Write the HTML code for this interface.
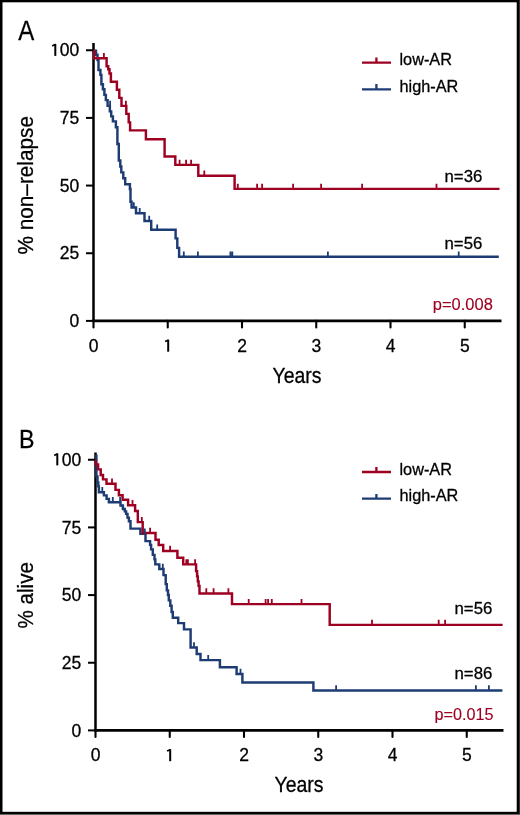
<!DOCTYPE html>
<html><head><meta charset="utf-8"><style>
html,body{margin:0;padding:0;background:#fff;}
body{width:520px;height:815px;overflow:hidden;}
svg{display:block;will-change:transform;}
text{font-family:"Liberation Sans",sans-serif;fill:#000;stroke:#000;stroke-width:0.28px;}
.tk{font-size:17.5px;}
.ttl{font-size:21.3px;}
.lg{font-size:16.3px;}
.nn{font-size:16.8px;}
.pv{font-size:15.6px;fill:#9e0022;stroke:#9e0022;stroke-width:0.12px;}
.pl{font-size:26px;}
</style></head><body>
<svg width="520" height="815" viewBox="0 0 520 815">
<rect x="0" y="0" width="520" height="815" fill="#000"/>
<rect x="2.5" y="2.3" width="514.2" height="809.5" fill="#fff"/>
<rect x="519" y="0" width="1" height="815" fill="#303030"/>
<rect x="0" y="814" width="520" height="1" fill="#666"/>
<text x="18.2" y="40.1" class="pl" style="font-size:26.8px" textLength="16" lengthAdjust="spacingAndGlyphs">A</text>
<text x="19" y="447.8" class="pl" textLength="15.5" lengthAdjust="spacingAndGlyphs">B</text>
<text transform="translate(33.2,254.5) rotate(-90)" class="ttl" textLength="138.5" lengthAdjust="spacingAndGlyphs">% non–relapse</text>
<text transform="translate(33.3,628.4) rotate(-90)" class="ttl" textLength="66.3" lengthAdjust="spacingAndGlyphs">% alive</text>
<line x1="93.5" y1="43" x2="93.5" y2="322.1" stroke="#000" stroke-width="2.5"/>
<line x1="92.25" y1="320.9" x2="501.5" y2="320.9" stroke="#000" stroke-width="2.6"/>
<line x1="86" y1="50.25" x2="93.5" y2="50.25" stroke="#000" stroke-width="2"/>
<text x="79.3" y="56.45" text-anchor="end" class="tk">00</text>
<path d="M55.3,55.9V44.1" stroke="#000" stroke-width="2.0" fill="none"/><path d="M55.7,44.4Q54.1,44.9 52.2,45.9" stroke="#000" stroke-width="1.75" fill="none"/>
<line x1="86" y1="117.91" x2="93.5" y2="117.91" stroke="#000" stroke-width="2"/>
<text x="79.3" y="124.11" text-anchor="end" class="tk">75</text>
<line x1="86" y1="185.57" x2="93.5" y2="185.57" stroke="#000" stroke-width="2"/>
<text x="79.3" y="191.77" text-anchor="end" class="tk">50</text>
<line x1="86" y1="253.24" x2="93.5" y2="253.24" stroke="#000" stroke-width="2"/>
<text x="79.3" y="259.44" text-anchor="end" class="tk">25</text>
<line x1="86" y1="320.9" x2="93.5" y2="320.9" stroke="#000" stroke-width="2"/>
<text x="79.3" y="327.1" text-anchor="end" class="tk">0</text>
<line x1="93.5" y1="320.9" x2="93.5" y2="327.4" stroke="#000" stroke-width="2.1" stroke-linecap="round"/>
<text x="93.5" y="351.6" text-anchor="middle" class="tk">0</text>
<line x1="167.75" y1="320.9" x2="167.75" y2="327.4" stroke="#000" stroke-width="2.1" stroke-linecap="round"/>
<path d="M168.2,351.7V339.8" stroke="#000" stroke-width="2.0" fill="none"/><path d="M168.6,340.1Q167,340.6 165.1,341.6" stroke="#000" stroke-width="1.75" fill="none"/>
<line x1="242" y1="320.9" x2="242" y2="327.4" stroke="#000" stroke-width="2.1" stroke-linecap="round"/>
<text x="242" y="351.6" text-anchor="middle" class="tk">2</text>
<line x1="316.25" y1="320.9" x2="316.25" y2="327.4" stroke="#000" stroke-width="2.1" stroke-linecap="round"/>
<text x="316.25" y="351.6" text-anchor="middle" class="tk">3</text>
<line x1="390.5" y1="320.9" x2="390.5" y2="327.4" stroke="#000" stroke-width="2.1" stroke-linecap="round"/>
<text x="390.5" y="351.6" text-anchor="middle" class="tk">4</text>
<line x1="464.75" y1="320.9" x2="464.75" y2="327.4" stroke="#000" stroke-width="2.1" stroke-linecap="round"/>
<text x="464.75" y="351.6" text-anchor="middle" class="tk">5</text>
<text x="272.5" y="382.5" class="ttl" textLength="49" lengthAdjust="spacingAndGlyphs">Years</text>
<g transform="translate(0.1,0.35)">
<path d="M93.5,50.3 H95.9 V54.4 H97.4 V59.8 H98.4 V69.6 H100.3 V74.5 H101.3 V83.9 H102.8 V88.8 H104.3 V94.5 H105.75 V99.75 H107.5 V105.5 H109.75 V111 H111.1 V116 H112.8 V121 H115.8 V126.9 H117.3 V143.6 H118.7 V160.2 H120.2 V166.1 H121.2 V172 H123.2 V177.9 H125.1 V183.8 H129.8 V188.7 H130.4 V201.3 H131.5 V207.1 H135.9 V212.8 H144.4 V220.7 H151.1 V229.4 H175.5 V238 H177.2 V247.5 H179 V256.3 H498.7" fill="none" stroke="#1e3c74" stroke-width="2.45" stroke-linejoin="miter"/>
<path d="M93.5,50.3 H94 V57.9 H106.5 V65.9 H108.1 V68.8 H109.4 V73.2 H110.8 V81.3 H116.8 V89.4 H119.2 V97.5 H121.4 V105.5 H126.2 V113.5 H128.6 V122 H130 V130 H145.8 V138.8 H164.5 V156.2 H175.2 V164.5 H198.2 V175.3 H234.5 V188.5 H499.4" fill="none" stroke="#9e0022" stroke-width="2.45" stroke-linejoin="miter"/>
</g>
<g transform="translate(0.1,0.35)">
<path d="M110,105.5V100.3 M133.7,207.1V201.9 M139.6,212.8V207.6 M149.1,220.7V215.5 M157.1,229.4V224.2 M183.7,256.3V251.1 M197.8,256.3V251.1 M230.3,256.3V251.1 M232.2,256.3V251.1 M327.8,256.3V251.1 M458.6,256.3V251.1" fill="none" stroke="#1e3c74" stroke-width="1.8"/>
<path d="M103.8,57.9V52.7 M125.8,105.5V100.3 M179.5,164.5V159.3 M186,164.5V159.3 M191,164.5V159.3 M204.2,175.3V170.1 M237.7,188.5V183.3 M257,188.5V183.3 M262,188.5V183.3 M293,188.5V183.3 M321,188.5V183.3 M362,188.5V183.3 M436.4,188.5V183.3" fill="none" stroke="#9e0022" stroke-width="1.8"/>
</g>
<line x1="95.5" y1="452.5" x2="95.5" y2="731.6" stroke="#000" stroke-width="2.5"/>
<line x1="94.25" y1="730.4" x2="503.5" y2="730.4" stroke="#000" stroke-width="2.6"/>
<line x1="88" y1="459.75" x2="95.5" y2="459.75" stroke="#000" stroke-width="2"/>
<text x="81.3" y="465.95" text-anchor="end" class="tk">00</text>
<path d="M57.3,465.4V453.6" stroke="#000" stroke-width="2.0" fill="none"/><path d="M57.7,453.9Q56.1,454.4 54.2,455.4" stroke="#000" stroke-width="1.75" fill="none"/>
<line x1="88" y1="527.41" x2="95.5" y2="527.41" stroke="#000" stroke-width="2"/>
<text x="81.3" y="533.61" text-anchor="end" class="tk">75</text>
<line x1="88" y1="595.08" x2="95.5" y2="595.08" stroke="#000" stroke-width="2"/>
<text x="81.3" y="601.28" text-anchor="end" class="tk">50</text>
<line x1="88" y1="662.74" x2="95.5" y2="662.74" stroke="#000" stroke-width="2"/>
<text x="81.3" y="668.94" text-anchor="end" class="tk">25</text>
<line x1="88" y1="730.4" x2="95.5" y2="730.4" stroke="#000" stroke-width="2"/>
<text x="81.3" y="736.6" text-anchor="end" class="tk">0</text>
<line x1="95.5" y1="730.4" x2="95.5" y2="736.9" stroke="#000" stroke-width="2.1" stroke-linecap="round"/>
<text x="95.5" y="761.1" text-anchor="middle" class="tk">0</text>
<line x1="169.75" y1="730.4" x2="169.75" y2="736.9" stroke="#000" stroke-width="2.1" stroke-linecap="round"/>
<path d="M170.2,761.2V749.3" stroke="#000" stroke-width="2.0" fill="none"/><path d="M170.6,749.6Q169,750.1 167.1,751.1" stroke="#000" stroke-width="1.75" fill="none"/>
<line x1="244" y1="730.4" x2="244" y2="736.9" stroke="#000" stroke-width="2.1" stroke-linecap="round"/>
<text x="244" y="761.1" text-anchor="middle" class="tk">2</text>
<line x1="318.25" y1="730.4" x2="318.25" y2="736.9" stroke="#000" stroke-width="2.1" stroke-linecap="round"/>
<text x="318.25" y="761.1" text-anchor="middle" class="tk">3</text>
<line x1="392.5" y1="730.4" x2="392.5" y2="736.9" stroke="#000" stroke-width="2.1" stroke-linecap="round"/>
<text x="392.5" y="761.1" text-anchor="middle" class="tk">4</text>
<line x1="466.75" y1="730.4" x2="466.75" y2="736.9" stroke="#000" stroke-width="2.1" stroke-linecap="round"/>
<text x="466.75" y="761.1" text-anchor="middle" class="tk">5</text>
<text x="274.5" y="792" class="ttl" textLength="49" lengthAdjust="spacingAndGlyphs">Years</text>
<g transform="translate(0.3,0.35)">
<path d="M96.1,454.2 V476 H97.2 V482 H98 V486 H98.6 V491.8 H103.6 V495 H106.3 V498.5 H108.6 V501.8 H120.2 V505.2 H122.6 V508.6 H124.5 V511 H125.8 V513.5 H127.2 V517.3 H128.6 V520.9 H130.2 V528.3 H140.1 V533.4 H145.2 V540.8 H149.8 V544.5 H150.8 V549 H152.5 V554.5 H154.2 V559 H155 V564 H159 V568.6 H163.2 V574.8 H165.4 V583.8 H166.5 V590 H167.7 V594.6 H168.5 V600 H170 V605.4 H171.3 V611.7 H172.5 V617.4 H177.9 V622.8 H183.7 V629 H190.3 V647.2 H196.4 V653.7 H200.2 V659.8 H219.6 V666.9 H236.3 V673.7 H242.1 V682.2 H313.1 V690.2 H502.1" fill="none" stroke="#1e3c74" stroke-width="2.45" stroke-linejoin="miter"/>
<path d="M95.5,459.5 V464 H97.8 V469 H100.4 V474.7 H102.7 V479 H106.2 V483.4 H115.2 V489.5 H118.6 V494.8 H122.3 V499.4 H127.8 V504.8 H134.8 V510.6 H137.5 V521.8 H142.4 V532.6 H155.2 V539.4 H158.4 V544.7 H162.9 V550.6 H177.1 V557.4 H182.9 V564 H195.8 V570.8 H196.8 V576 H197.5 V581 H198.3 V585.5 H199.2 V593.2 H231.7 V603.8 H329.4 V624.5 H502.3" fill="none" stroke="#9e0022" stroke-width="2.45" stroke-linejoin="miter"/>
</g>
<g transform="translate(0.3,0.35)">
<path d="M102,491.8V486.6 M112.5,501.8V496.6 M119.8,501.8V496.6 M144.5,533.4V528.2 M162.5,568.6V563.4 M193.7,647.2V642 M207.9,659.8V654.6 M240.2,673.7V668.5 M335.8,690.2V685 M475.6,690.2V685 M488.6,690.2V685" fill="none" stroke="#1e3c74" stroke-width="1.8"/>
<path d="M111.7,483.4V478.2 M132.2,504.8V499.6 M141.5,521.8V516.6 M149.8,532.6V527.4 M169.8,550.6V545.4 M186,564V558.8 M187.6,564V558.8 M194.8,564V558.8 M206,593.2V588 M213.3,593.2V588 M228.1,593.2V588 M248.4,603.8V598.6 M265.3,603.8V598.6 M267.8,603.8V598.6 M271.5,603.8V598.6 M301.2,603.8V598.6 M371.7,624.5V619.3 M438.4,624.5V619.3 M444.8,624.5V619.3" fill="none" stroke="#9e0022" stroke-width="1.8"/>
</g>
<!-- legends -->
<path d="M362,62.6H391 M376.4,62.6V57.4" stroke="#9e0022" stroke-width="2.3" fill="none"/>
<path d="M362,89.4H391 M376.4,89.4V84" stroke="#1e3c74" stroke-width="2.3" fill="none"/>
<text x="399.5" y="65" class="lg">low-AR</text>
<text x="399.5" y="91.6" class="lg">high-AR</text>
<path d="M362,472H391 M376.4,472V467" stroke="#9e0022" stroke-width="2.3" fill="none"/>
<path d="M362,498.6H391 M376.4,498.6V494" stroke="#1e3c74" stroke-width="2.3" fill="none"/>
<text x="399.5" y="475" class="lg">low-AR</text>
<text x="399.5" y="501" class="lg">high-AR</text>
<!-- n / p labels -->
<text x="444.5" y="181.5" class="nn">n=36</text>
<text x="444.5" y="248.5" class="nn">n=56</text>
<text x="432.8" y="309.8" class="pv" textLength="60" lengthAdjust="spacingAndGlyphs">p=0.008</text>
<text x="454.5" y="613.5" class="nn">n=56</text>
<text x="454.5" y="679" class="nn">n=86</text>
<text x="434.5" y="719.7" class="pv" textLength="59" lengthAdjust="spacingAndGlyphs">p=0.015</text>
</svg>
</body></html>
